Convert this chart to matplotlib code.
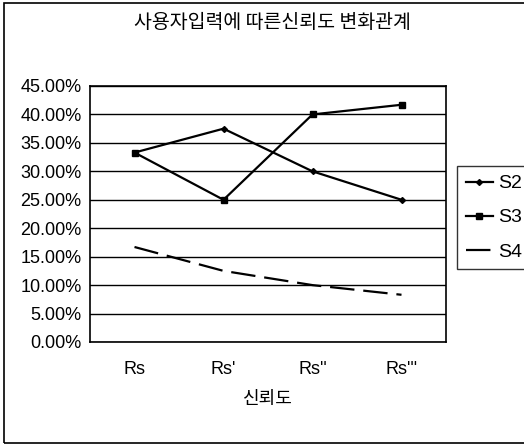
import matplotlib
matplotlib.use("Agg")
import matplotlib.pyplot as plt
from matplotlib.patches import Rectangle

categories = ["Rs", "Rs'", "Rs''", "Rs'''"]
s2 = [33.3, 37.5, 30.0, 25.0]
s3 = [33.3, 25.0, 40.0, 41.7]
s4 = [16.7, 12.5, 10.0, 8.3]
yticks = [0, 5, 10, 15, 20, 25, 30, 35, 40, 45]

plt.rcParams['font.family'] = ['Noto Sans CJK KR', 'DejaVu Sans']

W, H = 524, 445
fig = plt.figure(figsize=(W / 100, H / 100), dpi=100)

def fx(px):
    return px / W

def fy(py):
    return 1 - py / H

# outer chart frame (right edge runs past the picture, like the scan)
fig.patches.append(Rectangle((fx(4), fy(443)), fx(540), 440 / H, transform=fig.transFigure,
                             fill=False, edgecolor="black", linewidth=1.2))

ax = fig.add_axes([fx(90), fy(342), fx(446 - 90), (342 - 86) / H])
x = range(len(categories))
ax.plot(x, s2, color="black", lw=1.6, marker="D", markersize=3, label="S2")
ax.plot(x, s3, color="black", lw=1.6, marker="s", markersize=4, label="S3")
ax.plot(x, s4, color="black", lw=1.6, dashes=(11, 4), label="S4")

ax.set_xlim(-0.5, len(categories) - 0.5)
ax.set_ylim(0, 45)
ax.set_yticks(yticks)
ax.set_yticklabels([f"{v:.2f}%" for v in yticks], fontfamily="Liberation Sans", fontsize=13)
ax.set_xticks(list(x))
ax.set_xticklabels(categories, fontfamily="Liberation Sans", fontsize=13)
ax.tick_params(length=0, pad=6)
ax.tick_params(axis="x", pad=14)
ax.grid(axis="y", color="black", lw=1)
for s in ax.spines.values():
    s.set_linewidth(1.2)

ax.set_xlabel("신뢰도", fontsize=13, labelpad=8)
fig.text(fx(272), fy(22), "사용자입력에 따른신뢰도 변화관계", ha="center", va="center", fontsize=14)

leg = ax.legend(loc="upper left", bbox_to_anchor=(fx(457), fy(166)), bbox_transform=fig.transFigure,
                frameon=True, fancybox=False, handlelength=1.4, handletextpad=0.25,
                borderpad=0.45, labelspacing=0.85, borderaxespad=0,
                prop={"family": "Liberation Sans", "size": 14})
leg.get_frame().set_edgecolor("black")
leg.get_frame().set_linewidth(1)

fig.savefig("out.png", dpi=100)
